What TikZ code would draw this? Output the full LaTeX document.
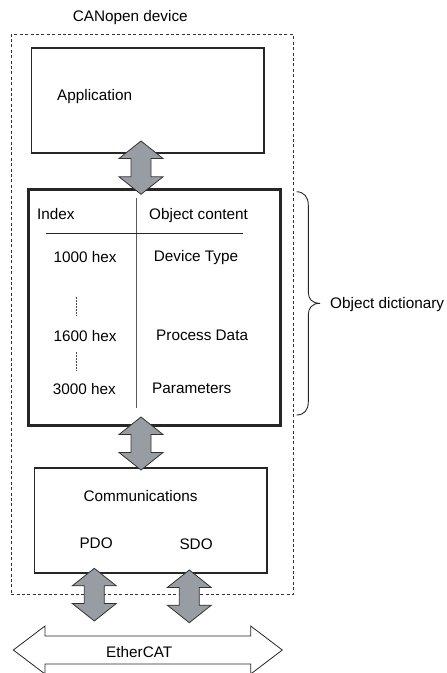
\documentclass[tikz,border=0pt]{standalone}
\usepackage{fontspec}
\setmainfont{Liberation Sans}
\definecolor{arrowgray}{RGB}{152,157,163}
\definecolor{divgray}{RGB}{90,90,90}
\tikzset{
  lbl/.style={inner sep=0pt, anchor=base west, font=\fontsize{15.3}{18}\selectfont},
  boxthin/.style={draw=black!85, line width=1.5pt, inner sep=0pt, anchor=north west},
  boxthick/.style={draw=black!85, line width=3pt, inner sep=0pt, anchor=north west},
  blockarrow/.style={draw=black!80, line width=0.8pt, fill=arrowgray, line join=miter},
  busarrow/.style={draw=black!85, line width=0.8pt, fill=white},
  framebox/.style={draw=black!80, line width=0.8pt, dash pattern=on 3pt off 2.4pt, inner sep=0pt, anchor=north west},
}
\newcommand\vdblarrow[4]{% name, x, ytop, ybot
  \coordinate (#1-top) at (#2,#3);
  \coordinate (#1-bot) at (#2,#4);
  \draw[blockarrow] (#1-top) -- (#2+22,#3+17.5) -- (#2+10,#3+17.5) -- (#2+10,#4-17.5) -- (#2+22,#4-17.5) -- (#1-bot) -- (#2-22,#4-17.5) -- (#2-10,#4-17.5) -- (#2-10,#3+17.5) -- (#2-22,#3+17.5) -- cycle;}
\begin{document}
\begin{tikzpicture}[x=1pt,y=-1pt]
\fill[white] (0,0) rectangle (447,673);
\useasboundingbox (0,0) rectangle (447,673);

% outer device frame
\node[framebox, minimum width=282pt, minimum height=560pt] (device) at (10.7,34) {};
\node[lbl] (devlbl) at (72.7,21) {CANopen device};

% application
\node[boxthin, minimum width=232.6pt, minimum height=104.7pt] (app) at (30.7,47.3) {};
\node[lbl] (applbl) at (57,100) {Application};

% object dictionary
\node[boxthick, minimum width=252pt, minimum height=236pt] (dict) at (27.3,188.3) {};
\coordinate (divtop) at (136.7,198);
\coordinate (divbot) at (136.7,407.7);
\draw[divgray, line width=1pt] (divtop) -- (divbot);
\coordinate (hl) at (45.7,233.3);
\coordinate (hr) at (242.7,233.3);
\draw[black!85, line width=0.9pt] (hl) -- (hr);
\node[lbl] (idx) at (37,219) {Index};
\node[lbl] (objc) at (149,219) {Object content};
\node[lbl] (i1) at (53.3,262.7) {1000 hex};
\node[lbl] (c1) at (153.7,261) {Device Type};
\node[lbl] (i2) at (53.3,341.7) {1600 hex};
\node[lbl] (c2) at (156,340) {Process Data};
\node[lbl] (i3) at (52.7,394.3) {3000 hex};
\node[lbl] (c3) at (152,393.3) {Parameters};
\coordinate (d1a) at (76,296.7);
\coordinate (d1b) at (76,315);
\coordinate (d2a) at (76,351.7);
\coordinate (d2b) at (76,370);
\draw[black!70, line width=0.5pt, dash pattern=on 0.6pt off 0.9pt] (d1a) -- (d1b);
\draw[black!70, line width=0.5pt, dash pattern=on 0.6pt off 0.9pt] (d2a) -- (d2b);

% brace
\coordinate (btop) at (296.7,191.7);
\coordinate (btip) at (320,303.3);
\coordinate (bbot) at (296.7,415);
\draw[black!85, line width=0.9pt] (btop) .. controls (304,192) and (308.3,197) .. (308.3,205) -- (308.3,292) .. controls (308.3,299) and (312,303.3) .. (btip) .. controls (312,303.3) and (308.3,308) .. (308.3,315) -- (308.3,402) .. controls (308.3,410) and (304,415) .. (bbot);
\node[lbl] (odlbl) at (330,308.3) {Object dictionary};

% communications
\node[boxthin, minimum width=232.3pt, minimum height=104.7pt] (comm) at (33.7,467.3) {};
\node[lbl] (commlbl) at (83.3,501.7) {Communications};
\node[lbl] (pdo) at (79.3,548.3) {PDO};
\node[lbl] (sdo) at (179.3,549) {SDO};

% block arrows
\vdblarrow{a1}{141}{141}{194.3}
\vdblarrow{a2}{141}{417}{470}
\vdblarrow{a3}{94.3}{568.3}{621}
\vdblarrow{a4}{189.3}{570}{622.7}

% EtherCAT bus arrow
\coordinate (busl) at (13.3,650);
\coordinate (busr) at (282.3,650);
\draw[busarrow] (busl) -- (45,626) -- (45,636) -- (250.7,636) -- (250.7,626) -- (busr) -- (250.7,674) -- (250.7,664) -- (45,664) -- (45,674) -- cycle;
\node[lbl] (bus) at (106,657.3) {EtherCAT};
\end{tikzpicture}
\end{document}
